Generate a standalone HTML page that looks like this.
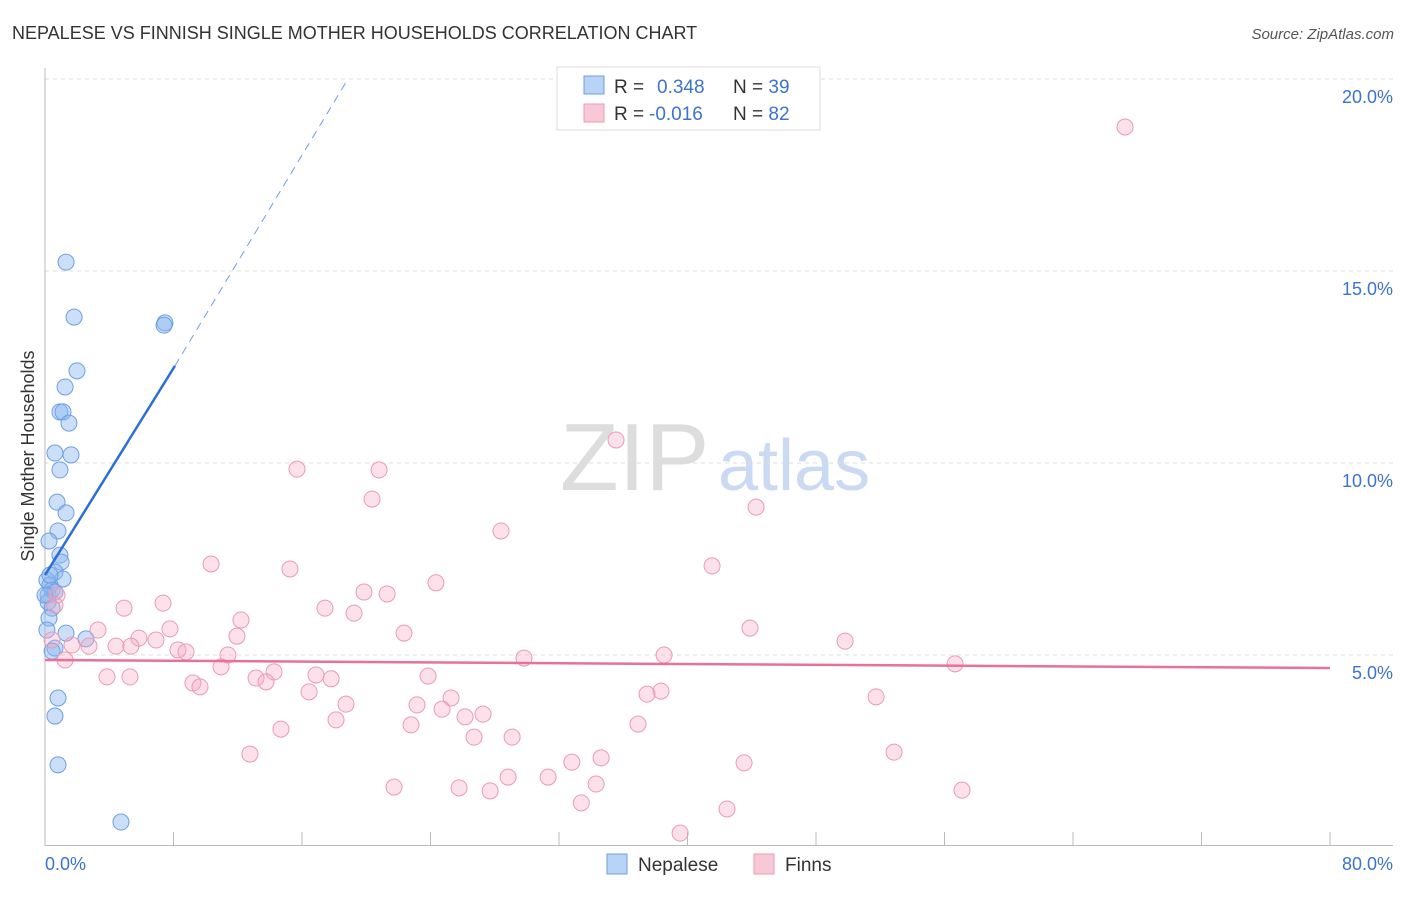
<!DOCTYPE html>
<html><head><meta charset="utf-8"><style>
body{margin:0;background:#fff;font-family:"Liberation Sans",sans-serif}
svg text{font-family:"Liberation Sans",sans-serif}
</style></head><body>
<svg id="c" width="1406" height="892">
<text x="12" y="39" font-size="18" fill="#333">NEPALESE VS FINNISH SINGLE MOTHER HOUSEHOLDS CORRELATION CHART</text>
<text x="1394" y="39" font-size="15" fill="#555" font-style="italic" text-anchor="end">Source: ZipAtlas.com</text>
<text x="560" y="490" font-size="96" fill="#ddd" font-family="Liberation Serif">ZIP</text>
<text x="718" y="490" font-size="72" fill="#c9daf2">atlas</text>
<g id="grid"></g><g id="axes"></g><g id="pts"></g><g id="trend"></g>
<text transform="translate(34,456) rotate(-90)" font-size="18" fill="#333" text-anchor="middle">Single Mother Households</text>
<text x="45" y="870" font-size="18" fill="#3b73d1">0.0%</text>
<text x="1393" y="870" font-size="18" fill="#3b73d1" text-anchor="end">80.0%</text>
<g>
<rect x="557" y="67" width="263" height="63" fill="#fff" stroke="#ddd"/>
<rect x="584" y="76" width="20" height="18" fill="#b8d3f5" stroke="#6d9ee6"/>
<rect x="584" y="104" width="20" height="18" fill="#f8c8d6" stroke="#ec9ab4"/>
<text x="614" y="93" font-size="19" fill="#333">R = <tspan fill="#3b73d1" x="657">0.348</tspan><tspan x="733">N = </tspan><tspan fill="#3b73d1">39</tspan></text>
<text x="614" y="120" font-size="19" fill="#333">R = <tspan fill="#3b73d1" x="649">-0.016</tspan><tspan x="733">N = </tspan><tspan fill="#3b73d1">82</tspan></text>
</g>
<g>
<rect x="607" y="854" width="20" height="20" fill="#b8d3f5" stroke="#6d9ee6"/>
<text x="638" y="871" font-size="19" fill="#333">Nepalese</text>
<rect x="754" y="854" width="20" height="20" fill="#f8c8d6" stroke="#ec9ab4"/>
<text x="785" y="871" font-size="19" fill="#333">Finns</text>
</g>
</svg>
<script>
const yTicks=[5,10,15,20];
const xTicks=[0,8,16,24,32,40,48,56,64,72,80];
const nepX=[1.31,1.81,7.47,7.41,1.99,1.25,0.93,1.12,1.49,0.62,1.62,0.93,0.75,0.81,1.31,0.25,0.93,1.00,0.62,1.12,0.12,0.31,0.44,0.19,0.62,0.19,0.44,0.25,0.12,1.31,2.55,0.62,0.44,0.81,0.62,0.81,4.73,0.0,0.31];
const nepY=[15.23,13.80,13.65,13.59,12.40,11.98,11.33,11.33,11.04,10.26,10.21,9.82,8.98,8.23,8.70,7.97,7.60,7.42,7.16,6.98,6.95,6.82,6.69,6.56,6.64,6.38,6.22,5.96,5.65,5.57,5.42,5.18,5.10,3.88,3.41,2.14,0.65,6.56,7.08];
const finX=[67.24,35.55,15.69,20.80,20.36,28.39,44.27,10.34,15.25,41.53,24.34,19.86,21.30,7.35,4.92,17.43,19.24,12.20,7.78,3.30,22.35,43.89,11.95,5.85,6.91,49.81,4.42,5.35,1.68,2.74,8.28,8.78,11.39,38.54,29.82,1.25,56.66,10.96,14.26,23.85,16.87,3.86,5.29,13.14,17.81,13.76,9.21,9.65,16.44,38.35,37.48,25.28,51.74,18.74,23.16,24.72,27.27,26.15,18.12,36.92,22.79,14.69,26.71,29.08,52.86,12.76,34.62,32.80,43.52,28.83,31.32,21.73,25.78,27.71,34.31,57.09,33.39,42.46,39.54,0.75,0.62,0.44];
const finY=[18.75,10.60,9.84,9.82,9.06,8.23,8.85,7.37,7.24,7.32,6.88,6.64,6.59,6.35,6.22,6.22,6.09,5.91,5.68,5.65,5.57,5.70,5.49,5.44,5.39,5.36,5.23,5.23,5.26,5.23,5.13,5.08,5.00,5.00,4.92,4.87,4.77,4.69,4.56,4.45,4.48,4.43,4.43,4.40,4.38,4.30,4.27,4.17,4.04,4.06,3.98,3.88,3.91,3.72,3.70,3.59,3.46,3.39,3.31,3.20,3.18,3.07,2.86,2.86,2.47,2.42,2.32,2.21,2.19,1.82,1.82,1.56,1.54,1.46,1.64,1.48,1.15,0.99,0.36,6.56,6.30,5.39];
const nepTrend=[0,7.08,8.09,12.53,18.86,20];
const finTrend=[0,4.87,80,4.66];
const NS="http://www.w3.org/2000/svg";
const X=v=>45+v*1285/80, Y=v=>847-v*38.4;
function mk(p,t,a){const e=document.createElementNS(NS,t);for(const k in a)e.setAttribute(k,a[k]);document.getElementById(p).appendChild(e);return e;}
yTicks.forEach(t=>{
 const l=mk('grid','line',{x1:45,x2:1393,y1:Y(t),y2:Y(t),stroke:'#ddd','stroke-dasharray':'4,4'});
 
 
 const tx=mk('grid','text',{x:1393,y:Y(t)+24,'font-size':18,fill:'#3b73d1','text-anchor':'end'});tx.textContent=t.toFixed(1)+'%';
 
 
});
mk('axes','line',{x1:45,x2:45,y1:68,y2:846,stroke:'#bbb'});
mk('axes','line',{x1:45,x2:1393,y1:845.5,y2:845.5,stroke:'#bbb'});
xTicks.forEach(t=>{
 const l=mk('axes','line',{x1:X(t),x2:X(t),y1:832,y2:846,stroke:'#bbb'});
 
 
});
nepX.forEach((x,i)=>{
 const c=mk('pts','circle',{cx:X(x),cy:Y(nepY[i]),r:8,fill:'rgba(140,185,240,0.45)',stroke:'#6d9ee6','stroke-width':1});
 
 
});
finX.forEach((x,i)=>{
 const c=mk('pts','circle',{cx:X(x),cy:Y(finY[i]),r:8,fill:'rgba(245,170,195,0.35)',stroke:'#ec9ab4','stroke-width':1});
 
 
});
const b1=mk('trend','line',{x1:X(nepTrend[0]),y1:Y(nepTrend[1]),x2:X(nepTrend[2]),y2:Y(nepTrend[3]),stroke:'#2a6fd6','stroke-width':2.5});


const b2=mk('trend','line',{x1:X(nepTrend[2]),y1:Y(nepTrend[3]),x2:X(nepTrend[4]),y2:Y(nepTrend[5]),stroke:'#6d9ee6','stroke-width':1,'stroke-dasharray':'8,6'});


const p1=mk('trend','line',{x1:X(finTrend[0]),y1:Y(finTrend[1]),x2:X(finTrend[2]),y2:Y(finTrend[3]),stroke:'#e8709a','stroke-width':2.5});


</script>
</body></html>
